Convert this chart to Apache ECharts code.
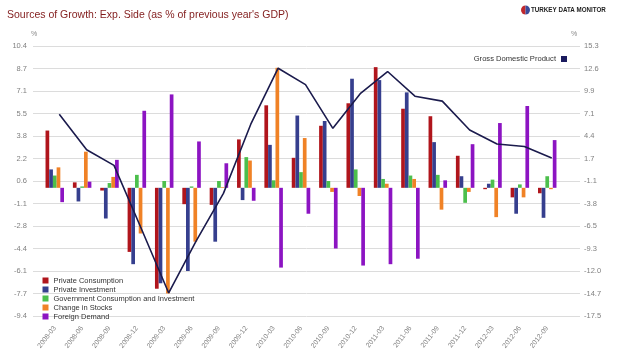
<!DOCTYPE html>
<html><head><meta charset="utf-8">
<script src="https://cdn.jsdelivr.net/npm/echarts@6/dist/echarts.min.js"></script>
<style>html,body{margin:0;padding:0;background:#fff}#c{width:617px;height:362px}</style>
</head><body><div id="c"></div>
<script>
const categories = ['2008-03','2008-06','2008-09','2008-12','2009-03','2009-06','2009-09','2009-12','2010-03','2010-06','2010-09','2010-12','2011-03','2011-06','2011-09','2011-12','2012-03','2012-06','2012-09'];
const privCons = [4.2, 0.4, -0.2, -4.7, -7.4, -1.2, -1.25, 3.55, 6.05, 2.2, 4.55, 6.2, 8.85, 5.8, 5.25, 2.35, -0.1, -0.7, -0.4];
const privInv  = [1.35, -1.0, -2.25, -5.6, -7.0, -6.1, -3.95, -0.9, 3.15, 5.3, 4.9, 8.0, 7.9, 7.0, 3.35, 0.85, 0.3, -1.9, -2.2];
const govt     = [0.9, 0.1, 0.35, 0.95, 0.5, 0.1, 0.5, 2.25, 0.55, 1.15, 0.5, 1.35, 0.65, 0.9, 0.95, -1.1, 0.6, 0.25, 0.85];
const stocks   = [1.5, 2.65, 0.8, -3.35, -7.75, -3.95, 0.05, 2.0, 8.8, 3.65, -0.3, -0.6, 0.3, 0.65, -1.6, -0.3, -2.15, -0.7, -0.1];
const foreign  = [-1.05, 0.45, 2.05, 5.65, 6.85, 3.4, 1.8, -0.95, -5.85, -1.9, -4.45, -5.7, -5.6, -5.2, 0.55, 3.2, 4.75, 6.0, 3.5];
const gdp      = [7.0, 2.7, 0.8, -6.9, -14.7, -8.4, -2.6, 5.8, 12.6, 10.6, 5.3, 9.5, 12.2, 9.2, 8.6, 5.1, 3.4, 3.1, 1.7];
const leftTicks  = ['-9.4','-7.7','-6.1','-4.4','-2.8','-1.1','0.6','2.2','3.8','5.5','7.1','8.7','10.4'];
const rightTicks = ['-17.5','-14.7','-12.0','-9.3','-6.5','-3.8','-1.1','1.7','4.4','7.1','9.9','12.6','15.3'];
const leftRange  = [-9.4, 10.4];
const rightRange = [-17.5, 15.3];

const FONT = "'Liberation Sans', Arial, sans-serif";
const barDefs = [
  {name: 'Private Consumption', data: privCons, color: '#b0151c'},
  {name: 'Private Investment', data: privInv, color: '#363f8e'},
  {name: 'Government Consumption and Investment', data: govt, color: '#4cbf4c'},
  {name: 'Change in Stocks', data: stocks, color: '#f08226'},
  {name: 'Foreign Demand', data: foreign, color: '#8c14c2'}
];
const chart = echarts.init(document.getElementById('c'), null, {renderer: 'canvas'});
const series = barDefs.map(d => ({
  name: d.name, type: 'bar', xAxisIndex: 1, yAxisIndex: 2, data: d.data,
  barWidth: 3.7, barGap: '0%', itemStyle: {color: d.color}, silent: true
}));
series.push({
  name: 'Gross Domestic Product', type: 'line', xAxisIndex: 2, yAxisIndex: 3, data: gdp,
  showSymbol: false, symbol: 'none', lineStyle: {color: '#1b1b4d', width: 1.6}, itemStyle: {color: '#1b1b5e'}, z: 5
});
const option = {
  animation: false,
  textStyle: {fontFamily: FONT},
  title: {
    text: "Sources of Growth: Exp. Side (as % of previous year's GDP)",
    left: 2, top: 5,
    textStyle: {fontSize: 10.5, fontWeight: 'normal', color: '#821c1c', fontFamily: FONT}
  },
  legend: [
    {
      data: barDefs.map(d => ({name: d.name, icon: 'rect'})),
      orient: 'vertical', left: 37.5, top: 271, itemWidth: 6, itemHeight: 6, itemGap: 0,
      textStyle: {fontSize: 7.5, color: '#333', lineHeight: 9, fontFamily: FONT}
    },
    {
      data: [{name: 'Gross Domestic Product', icon: 'rect'}],
      right: 45, top: 49.5, align: 'right', itemWidth: 6, itemHeight: 6,
      textStyle: {fontSize: 7.6, color: '#333', lineHeight: 9, fontFamily: FONT}
    }
  ],
  grid: [
    {left: 33, right: 37, top: 46, bottom: 46},
    {left: 41.1, right: 56.1, top: 46, bottom: 46},
    {left: 45.6, right: 51.6, top: 46, bottom: 46}
  ],
  xAxis: [
    {gridIndex: 0, type: 'category', data: categories, show: false},
    {gridIndex: 1, type: 'category', data: categories, axisLine: {show: false}, axisTick: {show: false},
     axisLabel: {rotate: 52, margin: 11, fontSize: 7, color: '#808080', interval: 0, fontFamily: FONT}},
    {gridIndex: 2, type: 'category', data: categories, show: false}
  ],
  yAxis: [
    {gridIndex: 0, type: 'value', min: 0, max: 12, interval: 1, position: 'left',
     axisLine: {show: false}, axisTick: {show: false},
     splitLine: {lineStyle: {color: '#dcdcdc', width: 1}},
     axisLabel: {formatter: v => leftTicks[Math.round(v)], fontSize: 7.5, color: '#808080', margin: 6, fontFamily: FONT}},
    {gridIndex: 0, type: 'value', min: 0, max: 12, interval: 1, position: 'right',
     axisLine: {show: false}, axisTick: {show: false}, splitLine: {show: false},
     axisLabel: {formatter: v => rightTicks[Math.round(v)], fontSize: 7.5, color: '#808080', margin: 4, fontFamily: FONT}},
    {gridIndex: 1, type: 'value', min: leftRange[0], max: leftRange[1], show: false},
    {gridIndex: 2, type: 'value', min: rightRange[0], max: rightRange[1], show: false}
  ],
  graphic: [
    {type: 'text', left: 31, top: 31, style: {text: '%', fontSize: 7, fill: '#888', fontFamily: FONT}},
    {type: 'text', left: 571, top: 31, style: {text: '%', fontSize: 7, fill: '#888', fontFamily: FONT}},
    {type: 'sector', shape: {cx: 525.5, cy: 10, r: 4.5, startAngle: Math.PI / 2, endAngle: Math.PI * 1.5}, style: {fill: '#c0282d'}},
    {type: 'sector', shape: {cx: 525.5, cy: 10, r: 4.5, startAngle: -Math.PI / 2, endAngle: Math.PI / 2}, style: {fill: '#3a4a9a'}},
    {type: 'text', x: 531, y: 6, scaleX: 0.78, style: {text: 'TURKEY DATA MONITOR', fontSize: 8, fontWeight: 'bold', fill: '#222', fontFamily: FONT}}
  ],
  series: series
};
chart.setOption(option);
</script>
</body></html>
